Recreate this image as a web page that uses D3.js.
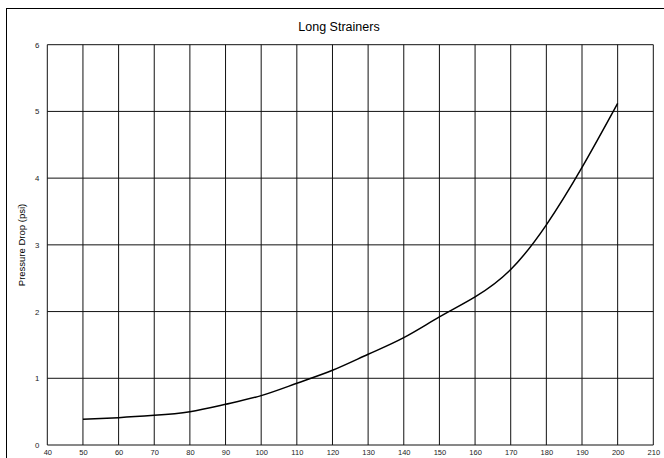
<!DOCTYPE html>
<html>
<head>
<meta charset="utf-8">
<script src="https://cdn.jsdelivr.net/npm/d3@7"></script>
<style>
  body { margin: 0; background: #fff; }
  svg { display: block; font-family: "Liberation Sans", Arial, sans-serif; }
</style>
</head>
<body>
<svg id="chart" width="664" height="458"></svg>
<script>
const flowRates = [50, 60, 70, 80, 90, 100, 110, 120, 130, 140, 150, 160, 170, 180, 190, 200];
const pressureDrop = [0.385, 0.41, 0.445, 0.50, 0.61, 0.74, 0.925, 1.12, 1.36, 1.61, 1.92, 2.22, 2.63, 3.30, 4.16, 5.12];
const xTicks = [40, 50, 60, 70, 80, 90, 100, 110, 120, 130, 140, 150, 160, 170, 180, 190, 200, 210];
const yTicks = [0, 1, 2, 3, 4, 5, 6];
const titleText = "Long Strainers";
const yLabel = "Pressure Drop (psi)";

const svg = d3.select("#chart");

// outer chart border
svg.append("rect")
  .attr("x", 6.5).attr("y", 8.5)
  .attr("width", 700).attr("height", 500)
  .attr("fill", "none").attr("stroke", "#000").attr("stroke-width", 1);

const x = d3.scaleLinear().domain([40, 210]).range([47.3, 653.3]);
const y = d3.scaleLinear().domain([0, 6]).range([445, 44.7]);

// gridlines
svg.append("g").selectAll("line").data(xTicks).join("line")
  .attr("x1", d => x(d)).attr("x2", d => x(d))
  .attr("y1", y(0)).attr("y2", y(6))
  .attr("stroke", "#111").attr("stroke-width", 1);
svg.append("g").selectAll("line").data(yTicks).join("line")
  .attr("x1", x(40)).attr("x2", x(210))
  .attr("y1", d => y(d)).attr("y2", d => y(d))
  .attr("stroke", "#111").attr("stroke-width", 1);

const xAxis = svg.append("g")
  .attr("transform", `translate(0,${y(0)})`)
  .call(d3.axisBottom(x).tickValues(xTicks).tickFormat(d3.format("d")).tickSize(0).tickPadding(5));
xAxis.select(".domain").remove();
xAxis.selectAll("text").attr("font-size", 7.5).attr("fill", "#222")
  .attr("font-family", "Liberation Sans, Arial, sans-serif");

const yAxis = svg.append("g")
  .attr("transform", `translate(${x(40)},0)`)
  .call(d3.axisLeft(y).tickValues(yTicks).tickFormat(d3.format("d")).tickSize(0).tickPadding(8));
yAxis.select(".domain").remove();
yAxis.selectAll("text").attr("font-size", 7.8).attr("fill", "#222")
  .attr("font-family", "Liberation Sans, Arial, sans-serif");

// title
svg.append("text")
  .attr("x", 339).attr("y", 30.5)
  .attr("text-anchor", "middle")
  .attr("font-size", 12.5)
  .attr("fill", "#000")
  .text(titleText);

// y label
svg.append("text")
  .attr("transform", `translate(25,245) rotate(-90)`)
  .attr("text-anchor", "middle")
  .attr("font-size", 9.5)
  .attr("fill", "#000")
  .text(yLabel);

// curve
const data = flowRates.map((f, i) => ({ f, p: pressureDrop[i] }));
const line = d3.line()
  .x(d => x(d.f)).y(d => y(d.p))
  .curve(d3.curveNatural);
svg.append("path")
  .datum(data)
  .attr("d", line)
  .attr("fill", "none")
  .attr("stroke", "#000")
  .attr("stroke-width", 1.5);
</script>
</body>
</html>
